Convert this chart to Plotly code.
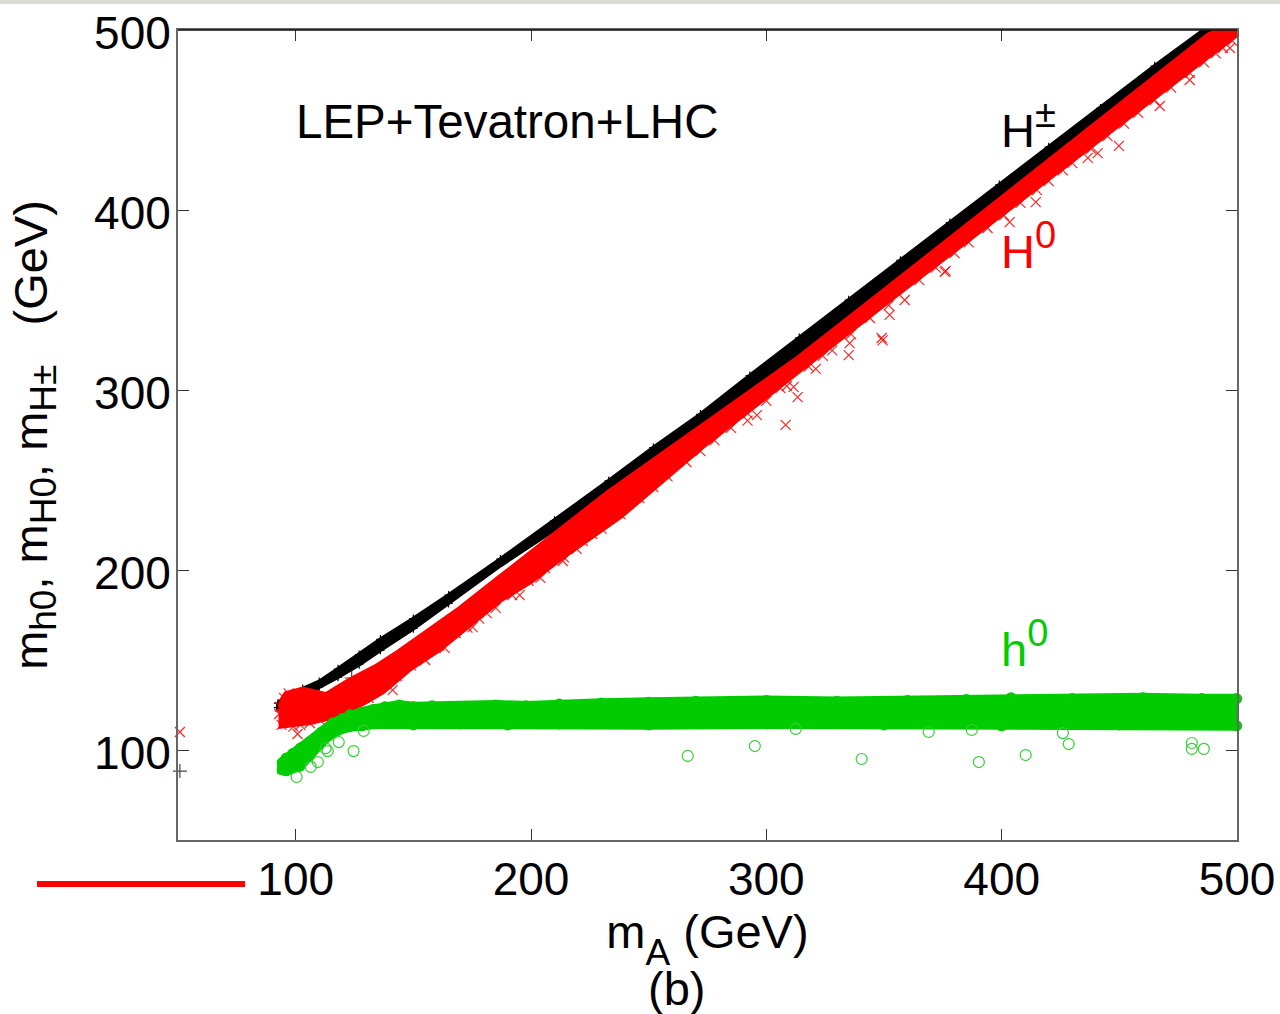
import plotly.graph_objects as go

# Envelope of each dense point cloud (mA, mass) in GeV
black_top_x = [92.5, 97, 103, 110, 118, 127, 136, 150, 165, 187, 210, 233, 252, 272, 293, 314, 335, 357, 378, 399, 420, 442, 465, 488, 493]
black_top_y = [126, 130, 134, 138, 145, 153, 161.5, 173, 186, 206, 227.5, 249.5, 268, 286.5, 308, 329, 350, 372, 393, 414, 435, 456.5, 480, 502, 503]
black_bot_x = [92.5, 97, 103, 110, 118, 127, 136, 150, 165, 187, 210, 233, 272, 314, 357, 399, 442, 488, 493]
black_bot_y = [123.5, 125.5, 129.5, 135, 140.5, 147.5, 155.5, 167.5, 181.5, 202.5, 222.5, 243.5, 281, 320.5, 363.5, 406.5, 450.5, 495.5, 500.5]

red_top_x = [94, 96, 103, 113, 123, 134, 144, 150, 170, 187, 210, 233, 272, 314, 357, 399, 442, 488, 497, 500]
red_top_y = [127, 131, 133.5, 130.5, 138.5, 146, 154.5, 160, 178.5, 196, 219, 243, 279, 318, 362, 405, 449, 497, 503, 503]
red_bot_x = [94, 106, 117, 127, 137, 148, 161, 187, 200, 213, 238, 272, 314, 357, 399, 449, 498, 500]
red_bot_y = [113.5, 115.5, 119, 125, 132.6, 144.8, 156, 183.6, 194, 207, 230, 268, 311, 355, 398, 447, 496, 498]

green_top_x = [94.3, 96, 98.8, 102, 106, 111, 115.8, 120, 123, 128, 133, 138, 144, 150, 158, 170, 185, 198, 212, 230, 250,
               270, 300, 330, 360, 385, 404, 430, 460, 485, 499.8]
green_top_y = [93, 95.5, 98, 101, 104.5, 110, 115, 117.5, 119.5, 121, 122.5, 124, 125, 124, 124.5, 124, 125, 124.5, 125.5, 126, 126.5,
               127, 127.5, 127, 127.5, 128, 129, 128.5, 129, 128.5, 128.5]
green_bot_x = [94.3, 96, 101.7, 106, 110, 114, 118, 123, 128, 134, 150, 170, 190, 212, 250, 300, 350, 400, 450, 499.8]
green_bot_y = [89, 88.5, 91, 97, 103, 108, 111, 113, 113.5, 114.5, 114, 114.5, 114, 114.5, 114, 114.5, 114, 113.5, 114, 113.5]

# Isolated points
black_out_x = [50.8, 123.8]
black_out_y = [88.3, 140]

red_out_x = [50.8, 100.8, 141.2, 163.3, 175.2, 181.2, 195.2, 204, 213.5, 219.4, 292, 296, 308.2, 308.7,
             311.6, 313.3, 321, 335, 335.4, 349, 349.4, 352.4, 358.8, 375.8, 376.2, 403.4, 414.5, 436.6,
             440.8, 449.8, 467.2, 479.9, 497]
red_out_y = [110, 108.9, 133.3, 156.7, 168.3, 176, 186, 195.6, 205, 211.7, 283, 286, 280.6, 302.2,
             301.7, 296, 311.7, 319.4, 326, 328.9, 327.6, 341.7, 350, 365.6, 366.2, 393.3, 404.4, 429,
             431.6, 435.6, 457.8, 472.2, 490]

# Scattered points along the fringes of the red cloud
red_edge_x = [93, 93.5, 94, 95, 97, 99, 102, 106, 110, 114, 120, 126, 131, 137, 143, 149, 155, 161, 168, 173, 178, 185,
              192, 199, 206, 214, 222, 226, 230, 238, 246, 252, 258, 266, 272, 278, 285, 292, 300, 306, 318, 324, 328,
              336, 344, 352, 365, 372, 380, 386, 394, 401, 408, 415, 420, 426, 430, 438, 445, 452, 458, 465, 472, 480,
              486, 491, 494, 498, 499, 500, 501, 499]
red_edge_y = [120, 124, 114, 129, 131.5, 113, 114, 115, 117, 118.5, 122, 125, 129, 137, 141, 147, 150, 158, 165, 168, 173, 179,
              186, 194, 201, 207, 216, 220, 223, 231, 240, 246, 252, 260, 266, 272, 279, 287, 294, 301, 313, 319, 322,
              331, 340, 347, 361, 368, 376, 382, 390, 397, 404, 411, 416, 422, 426, 434, 441, 448, 454, 461, 468, 476,
              482, 487, 490, 494, 505, 501, 498, 504]

green_out_x = [100.4, 106.4, 109.4, 113.6, 112.7, 118.3, 124.6, 128.9, 266.6, 295.1, 312.5, 340.5, 369, 387.3,
               390.3, 410.2, 426, 428.5, 480.8, 480.8, 485.9]
green_out_y = [85, 90.6, 93.3, 99.4, 101, 104.4, 99.4, 110.6, 96.7, 102.2, 111.7, 95, 110, 111.1,
               93.3, 97.2, 109.4, 103.3, 103.9, 100.6, 100.6]

x_ticks = [100, 200, 300, 400, 500]
y_ticks = [100, 200, 300, 400, 500]

BLACK, RED, GREEN = "#000000", "#ff0000", "#00cc00"
FONT = "Liberation Sans"
FS = 47
TICK_FS = 46


def cloud(tx, ty, bx, by, color, width):
    return go.Scatter(x=tx + bx[::-1] + tx[:1], y=ty + by[::-1] + ty[:1], mode="lines", fill="toself",
                      fillcolor=color, line=dict(color=color, width=width),
                      cliponaxis=False, hoverinfo="skip", showlegend=False)


def points(x, y, symbol, color, size, opacity=1.0):
    return go.Scatter(x=x, y=y, mode="markers", cliponaxis=False, hoverinfo="skip", showlegend=False,
                      marker=dict(symbol=symbol, size=size, opacity=opacity, color=color,
                                  line=dict(color=color, width=1.2)))


def sub(text, levels=1, size=37):
    return "<sub>" * levels + f'<span style="font-size:{size}px">{text}</span>' + "</sub>" * levels


def sup(text, size=38):
    return f'<sup><span style="font-size:{size}px">{text}</span></sup>'


fig = go.Figure()
fig.add_trace(cloud(black_top_x, black_top_y, black_bot_x, black_bot_y, BLACK, 4))
fig.add_trace(points(black_top_x + black_bot_x[:9], black_top_y + black_bot_y[:9], "cross-thin-open", BLACK, 6))
fig.add_trace(points(black_out_x, black_out_y, "cross-thin-open", "#444444", 10))
fig.add_trace(cloud(red_top_x, red_top_y, red_bot_x, red_bot_y, RED, 6))
fig.add_trace(points(red_out_x + red_edge_x, red_out_y + red_edge_y, "x-thin-open", RED, 10, 0.85))
fig.add_trace(cloud(green_top_x, green_top_y, green_bot_x, green_bot_y, GREEN, 10))
fig.add_trace(points(green_top_x + green_bot_x, green_top_y + green_bot_y, "circle", GREEN, 10))
fig.add_trace(points(green_out_x, green_out_y, "circle-open", "#33d033", 11))

axis = dict(showgrid=False, zeroline=False, ticks="inside", ticklen=11, tickwidth=1, tickcolor="#333333",
            linecolor="#666666", linewidth=2, mirror="ticks", showline=True,
            tickfont=dict(family=FONT, size=TICK_FS, color="#000000"))
fig.update_xaxes(range=[50, 500], tickvals=x_ticks, ticktext=[str(v) for v in x_ticks],
                 title=dict(text="m" + sub("A", 2) + " (GeV)", standoff=0, font=dict(family=FONT, size=FS, color="#000000")),
                 ticklabelstandoff=-2, **axis)
fig.update_yaxes(range=[50, 500], tickvals=y_ticks, ticktext=[str(v) for v in y_ticks],
                 title=dict(text="m" + sub("h0") + ", m" + sub("H0") + ", m" + sub("H±") + "   (GeV)", standoff=32,
                            font=dict(family=FONT, size=FS, color="#000000")),
                 ticklabelshift=3, ticklabelstandoff=-4, **axis)


def label(x, y, text, color, anchor="left", size=FS):
    fig.add_annotation(x=x, y=y, text=text, showarrow=False, xanchor=anchor, yanchor="middle",
                       font=dict(family=FONT, size=size, color=color))


label(99.5, 449, "LEP+Tevatron+LHC", "#000000", size=47.5)
label(399, 447, "H" + sup("±"), "#000000")
label(399, 380, "H" + sup("0"), RED)
label(399, 159, "h" + sup("0"), GREEN)
fig.add_annotation(xref="paper", yref="paper", x=(676 - 178) / 1059, y=(840 - 988) / 810, text="(b)",
                   showarrow=False, xanchor="center", yanchor="middle",
                   font=dict(family=FONT, size=FS, color="#000000"))

fig.update_layout(
    width=1280, height=1014, margin=dict(l=178, r=43, t=30, b=174, autoexpand=False),
    paper_bgcolor="#ffffff", plot_bgcolor="#ffffff", showlegend=False,
    shapes=[
        dict(type="rect", xref="paper", yref="paper", x0=-178 / 1059, x1=1102 / 1059, y0=1 + 26 / 810, y1=1 + 30 / 810,
             fillcolor="#dcdbd3", line=dict(width=0)),
        dict(type="line", xref="paper", yref="paper", x0=(37 - 178) / 1059, x1=(245 - 178) / 1059,
             y0=(840 - 884) / 810, y1=(840 - 884) / 810, line=dict(color=RED, width=6)),
        dict(type="line", xref="paper", yref="paper", x0=0, x1=1, y0=1, y1=1, line=dict(color="#111111", width=1.5)),
    ],
)

fig.write_html("out.html", config={"displayModeBar": False}, post_script="document.body.style.margin='0';")
